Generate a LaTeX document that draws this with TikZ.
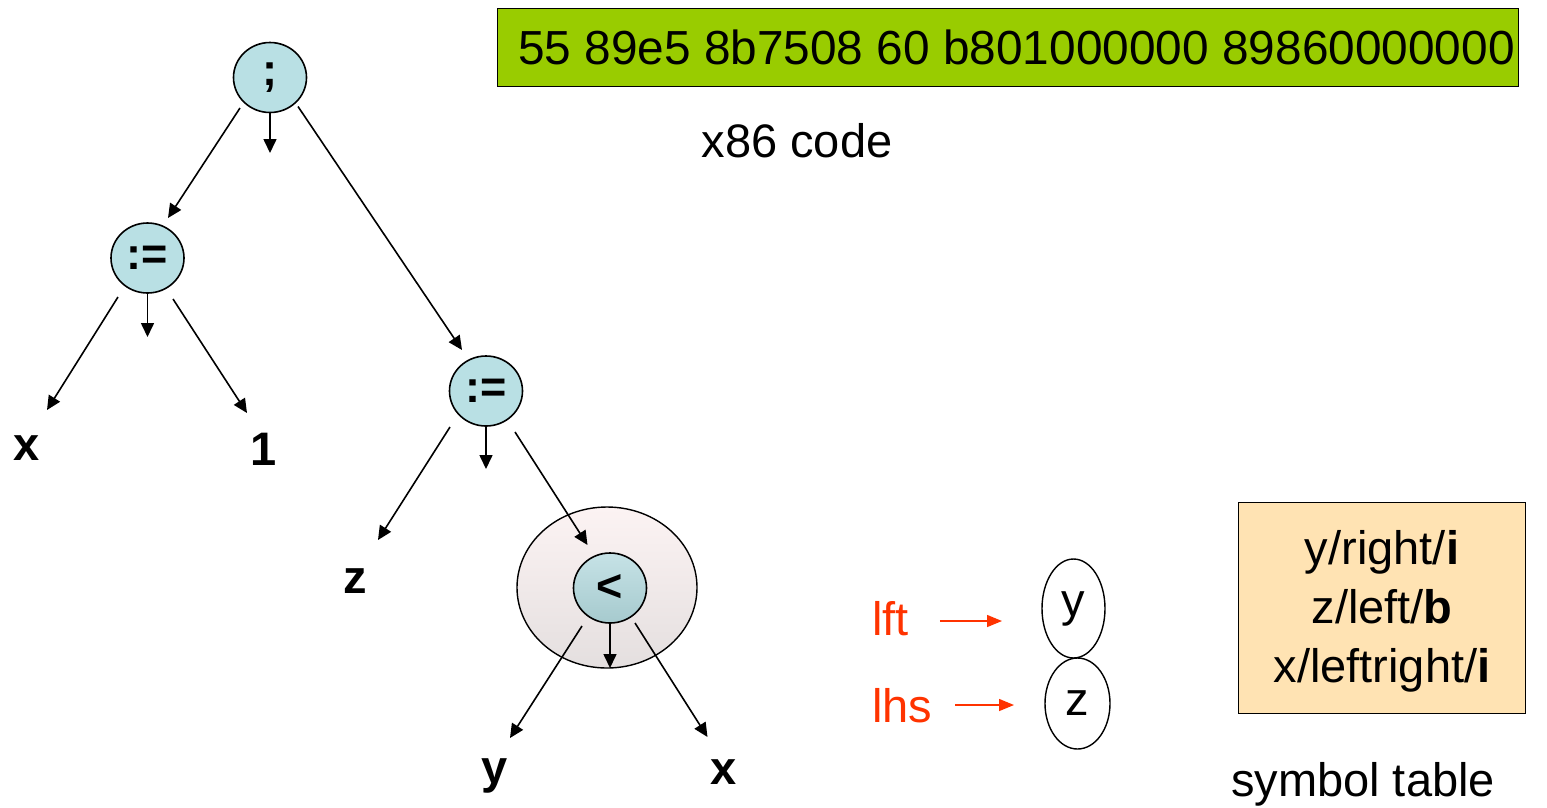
\documentclass[tikz,border=0pt]{standalone}
\usepackage{fontspec}
\setmainfont{Liberation Sans}
\usetikzlibrary{shapes.geometric,arrows.meta,calc}
\definecolor{nodeblue}{RGB}{185,224,228}
\definecolor{lttop}{RGB}{198,226,230}
\definecolor{ltbot}{RGB}{166,202,206}
\definecolor{envtop}{RGB}{252,243,243}
\definecolor{envbot}{RGB}{228,223,223}
\definecolor{codegreen}{RGB}{153,204,0}
\definecolor{tabfill}{RGB}{255,227,179}
\definecolor{redc}{RGB}{255,51,0}
\begin{document}
\begin{tikzpicture}[x=1pt,y=-1pt,
  big/.style={font=\fontsize{47}{56}\selectfont},
  opnode/.style={ellipse, draw, line width=1.6pt, fill=nodeblue, minimum width=73pt, minimum height=70pt, inner sep=0pt, font=\fontsize{45}{50}\selectfont\bfseries},
  leaf/.style={anchor=base, inner sep=0pt, font=\fontsize{47}{56}\selectfont\bfseries},
  arr/.style={line width=1.6pt, -{Triangle[length=14pt,width=13pt]}},
  redarr/.style={draw=redc, line width=1.4pt, -{Triangle[length=15pt,width=12pt]}, color=redc},
]
\useasboundingbox (0,0) rectangle (1547,807);

% code box
\node[draw, line width=1.4pt, fill=codegreen, minimum width=1021pt, minimum height=78pt, anchor=north west, inner sep=0pt] (codebox) at (497,8) {};
\node[font=\fontsize{47.8}{56}\selectfont, inner sep=0pt] (code) at (1016.5,47) {55 89e5 8b7508 60 b801000000 89860000000};
\node[big, anchor=base, inner sep=0pt] (x86) at (797,157) {x86 code};

% tree
\node[opnode] (semi) at (270,77.5) {;};
\node[opnode] (asgA) at (147.5,258) {:=};
\node[opnode] (asgB) at (486,391) {:=};
\node[ellipse, draw, line width=1.4pt, top color=envtop, bottom color=envbot, minimum width=180pt, minimum height=161pt] (env) at (607,587.5) {};
\node[opnode, top color=lttop, bottom color=ltbot] (lt) at (610,588) {<};

\node[leaf] (x1) at (26.5,460) {x};
\node[leaf] (one) at (263.5,465) {1};
\node[leaf] (z) at (355.5,593) {z};
\node[leaf] (y) at (495,783) {y};
\node[leaf] (x2) at (724,784) {x};

\coordinate (m1) at (270,153);
\coordinate (m2) at (147.5,337);
\coordinate (m3) at (486,469);
\coordinate (m4) at (610,668);

\draw[arr] ($(semi)+(-30,30.5)$) -- ($(asgA)+(20.5,-40)$);
\draw[arr] (semi.south) -- (m1);
\draw[arr] ($(semi)+(28,29)$) -- ($(asgB)+(-24,-41)$);
\draw[arr] ($(asgA)+(-29.5,39)$) -- ($(x1.base)+(20.5,-50)$);
\draw[arr] (asgA.south) -- (m2);
\draw[arr] ($(asgA)+(25.5,41)$) -- ($(one.base)+(-16.5,-52)$);
\draw[arr] ($(asgB)+(-36,36)$) -- ($(z.base)+(22.5,-53)$);
\draw[arr] (asgB.south) -- (m3);
\draw[arr] ($(asgB)+(29,41)$) -- ($(lt)+(-22.5,-43)$);
\draw[arr] ($(lt)+(-28,38)$) -- ($(y.base)+(15,-45)$);
\draw[arr] (lt.south) -- (m4);
\draw[arr] ($(lt)+(25,35)$) -- ($(x2.base)+(-16.5,-47)$);

% lft / lhs
\node[big, anchor=base west, inner sep=0pt, text=redc] (lft) at (872,635) {lft};
\node[big, anchor=base west, inner sep=0pt, text=redc] (lhs) at (872,722) {lhs};
\node[ellipse, draw, line width=1.4pt, minimum width=63pt, minimum height=99pt, inner sep=0pt, big] (yv) at (1073.5,608.5) {y};
\node[ellipse, draw, line width=1.4pt, minimum width=65pt, minimum height=91pt, inner sep=0pt, big] (zv) at (1077.5,703.5) {z};
\draw[redarr] ($(lft.base east)+(31,-14)$) -- ($(yv)+(-71.5,12.5)$);
\draw[redarr] ($(lhs.base east)+(23,-17)$) -- ($(zv)+(-63.5,1.5)$);

% symbol table
\node[draw, line width=1.4pt, fill=tabfill, minimum width=287pt, minimum height=211pt, anchor=north west] (symtab) at (1238,502) {};
\node[align=center, inner sep=0pt, font=\fontsize{47}{59}\selectfont] (symtxt) at (1382,611) {y/right/\textbf{i}\\z/left/\textbf{b}\\x/leftright/\textbf{i}};
\node[big, anchor=base, inner sep=0pt] (symlbl) at (1363,796) {symbol table};
\end{tikzpicture}
\end{document}
